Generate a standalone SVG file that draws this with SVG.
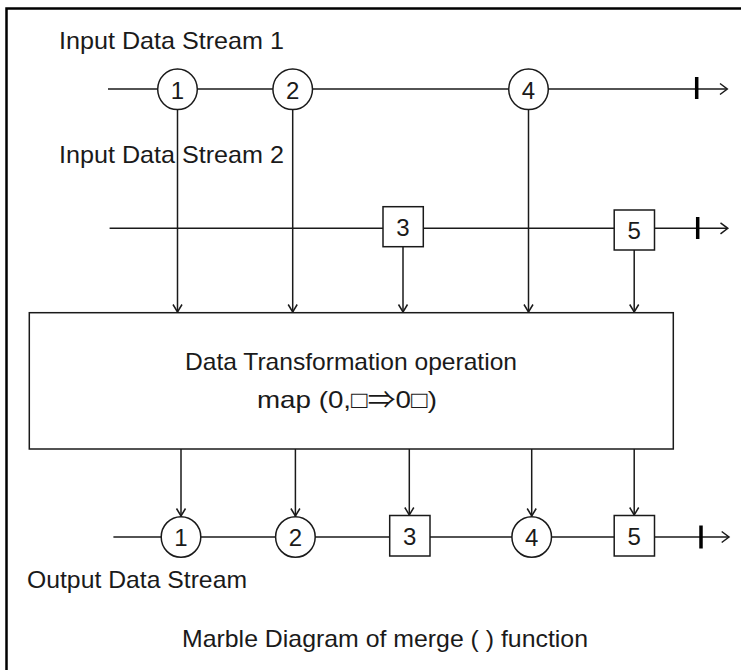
<svg xmlns="http://www.w3.org/2000/svg" width="741" height="670" viewBox="0 0 741 670">
  <defs>
    <style>
      .frame { fill: none; stroke: #000; stroke-width: 2.5; }
      .line { fill: none; stroke: #1a1a1a; stroke-width: 1.5; }
      .tick { fill: none; stroke: #000; stroke-width: 3.5; }
      .marble { fill: #fff; stroke: #1a1a1a; stroke-width: 1.5; }
      .label { font-family: "Liberation Sans", "Noto Sans CJK JP", sans-serif; font-size: 24px; fill: #1a1a1a; }
      .digit { font-family: "Liberation Sans", sans-serif; font-size: 24px; fill: #1a1a1a; text-anchor: middle; dominant-baseline: central; }
      .mid { text-anchor: middle; }
    </style>
    <!-- open chevron arrowhead, tip at the end of the line -->
    <marker id="head" viewBox="0 0 10 12" refX="9" refY="6" markerWidth="10" markerHeight="12" markerUnits="userSpaceOnUse" orient="auto">
      <path d="M1.5,1.5 L9,6 L1.5,10.5" fill="none" stroke="#1a1a1a" stroke-width="1.5"/>
    </marker>
  </defs>

  <rect width="741" height="670" fill="#fff"/>

  <!-- outer frame: left and top edges only -->
  <path class="frame" d="M6.5,670 V8.5 H741"/>

  <!-- stream labels -->
  <g id="label-input-1">
    <text class="label" x="59" y="49" textLength="225" lengthAdjust="spacingAndGlyphs">Input Data Stream 1</text>
  </g>
  <g id="label-input-2">
    <text class="label" x="59" y="163" textLength="225" lengthAdjust="spacingAndGlyphs">Input Data Stream 2</text>
  </g>
  <g id="label-output">
    <text class="label" x="27" y="588" textLength="220" lengthAdjust="spacingAndGlyphs">Output Data Stream</text>
  </g>

  <!-- timelines and connectors -->
  <g id="connectors">
    <!-- stream 1 -->
    <path class="line" d="M108,89 H727"/>
    <path class="tick" d="M696.7,77 V99"/>
    <path class="line" d="M720,83.5 L727.3,89 L720,94.5"/>
    <!-- stream 2 -->
    <path class="line" d="M109.6,228.3 H727"/>
    <path class="tick" d="M697.7,217 V239"/>
    <path class="line" d="M720.5,222.8 L727.8,228.3 L720.5,233.8"/>
    <!-- output stream -->
    <path class="line" d="M113.4,537 H729"/>
    <path class="tick" d="M701,525.5 V548.5"/>
    <path class="line" d="M721.7,531.5 L729,537 L721.7,542.5"/>

    <!-- inputs into the operation -->
    <path class="line" d="M177.5,109.5 V312" marker-end="url(#head)"/>
    <path class="line" d="M292.7,109.5 V312" marker-end="url(#head)"/>
    <path class="line" d="M403,246.7 V312" marker-end="url(#head)"/>
    <path class="line" d="M528.5,109.5 V312" marker-end="url(#head)"/>
    <path class="line" d="M634.2,250 V312" marker-end="url(#head)"/>

    <!-- operation to output -->
    <path class="line" d="M181,449 V516" marker-end="url(#head)"/>
    <path class="line" d="M295.4,449 V516" marker-end="url(#head)"/>
    <path class="line" d="M409.3,449 V515" marker-end="url(#head)"/>
    <path class="line" d="M531.7,449 V516" marker-end="url(#head)"/>
    <path class="line" d="M634.2,449 V515" marker-end="url(#head)"/>
  </g>

  <!-- stream 1 marbles -->
  <g id="in1-m1"><ellipse class="marble" cx="177.5" cy="89.3" rx="19.8" ry="20.3"/><text class="digit" x="177.5" y="90">1</text></g>
  <g id="in1-m2"><ellipse class="marble" cx="292.7" cy="89.3" rx="19.8" ry="20.3"/><text class="digit" x="292.7" y="90">2</text></g>
  <g id="in1-m4"><ellipse class="marble" cx="528.5" cy="89.3" rx="19.8" ry="20.3"/><text class="digit" x="528.5" y="90">4</text></g>

  <!-- stream 2 marbles -->
  <g id="in2-m3"><rect class="marble" x="383" y="206.7" width="40.3" height="40"/><text class="digit" x="403" y="227">3</text></g>
  <g id="in2-m5"><rect class="marble" x="614.2" y="210" width="40.3" height="40"/><text class="digit" x="634.2" y="230.5">5</text></g>

  <!-- operation box -->
  <g id="operation">
    <rect class="marble" x="29.3" y="312.7" width="644" height="136.3"/>
    <text class="label mid" x="351" y="370" textLength="332" lengthAdjust="spacingAndGlyphs">Data Transformation operation</text>
    <text class="label mid" x="347" y="408" textLength="180" lengthAdjust="spacingAndGlyphs">map (0,□⇒0□)</text>
  </g>

  <!-- output marbles -->
  <g id="out-m1"><ellipse class="marble" cx="181" cy="537" rx="19.8" ry="20.3"/><text class="digit" x="181" y="537.7">1</text></g>
  <g id="out-m2"><ellipse class="marble" cx="295.4" cy="537" rx="19.8" ry="20.3"/><text class="digit" x="295.4" y="537.7">2</text></g>
  <g id="out-m3"><rect class="marble" x="389.7" y="515.5" width="40.3" height="40.5"/><text class="digit" x="409.8" y="536.5">3</text></g>
  <g id="out-m4"><ellipse class="marble" cx="531.7" cy="537" rx="19.8" ry="20.3"/><text class="digit" x="531.7" y="537.7">4</text></g>
  <g id="out-m5"><rect class="marble" x="614.2" y="515.5" width="40.3" height="40.5"/><text class="digit" x="634.3" y="536.5">5</text></g>

  <!-- caption -->
  <g id="caption">
    <text class="label mid" x="385" y="647" textLength="406" lengthAdjust="spacingAndGlyphs">Marble Diagram of merge ( ) function</text>
  </g>
</svg>
